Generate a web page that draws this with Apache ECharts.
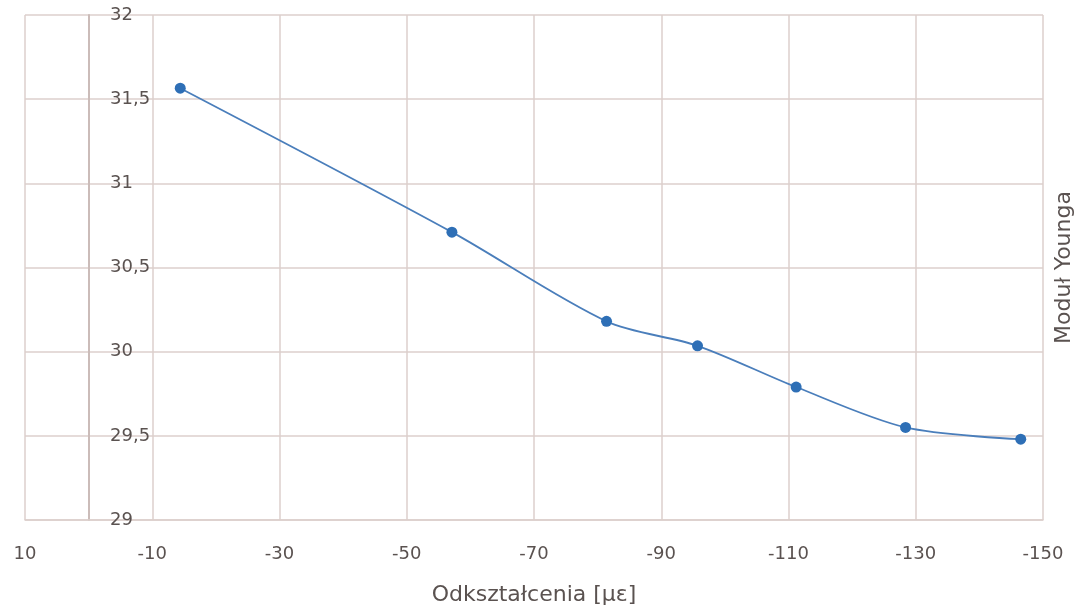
<!DOCTYPE html>
<html><head><meta charset="utf-8">
<script src="https://cdn.jsdelivr.net/npm/echarts@6/dist/echarts.min.js"></script>
<style>html,body{margin:0;padding:0;background:#fff}#c{width:1078px;height:609px}</style>
</head><body><div id="c"></div>
<script>
const strainValues = [-14.4, -57.1, -81.4, -95.7, -111.2, -128.4, -146.5];
const youngValues = [31.565, 30.71, 30.18, 30.035, 29.79, 29.55, 29.48];
const xAxisTitle = 'Odkształcenia [µε]';
const yAxisTitle = 'Moduł Younga';

const chart = echarts.init(document.getElementById('c'));
const txt = '#5a5250';
const gridCol = '#dccfcc';
const font = 'DejaVu Sans';
chart.setOption({
  animation: false,
  grid: {left: 25, right: 35, top: 15, bottom: 89, outerBoundsMode: 'none', containLabel: false},
  xAxis: {
    type: 'value', min: -150, max: 10, interval: 20, inverse: true,
    name: xAxisTitle, nameLocation: 'middle', nameGap: 64,
    nameTextStyle: {color: txt, fontSize: 22, fontFamily: font},
    axisLine: {onZero: false, lineStyle: {color: gridCol, width: 1.5}},
    axisTick: {show: false},
    axisLabel: {color: txt, fontSize: 18, fontFamily: font, margin: 25},
    splitLine: {show: true, lineStyle: {color: gridCol, width: 1.5}}
  },
  yAxis: [{
    type: 'value', min: 29, max: 32, interval: 0.5,
    axisLine: {show: true, onZero: true, lineStyle: {color: '#cbbcb9', width: 2}},
    axisTick: {show: false},
    axisLabel: {inside: true, margin: 85, color: txt, fontSize: 18, fontFamily: font,
      formatter: v => String(v).replace('.', ',')},
    splitLine: {show: true, lineStyle: {color: gridCol, width: 1.5}}
  }, {
    type: 'value', min: 29, max: 32, position: 'right',
    name: yAxisTitle, nameLocation: 'middle', nameRotate: 90, nameGap: 10,
    nameTextStyle: {color: txt, fontSize: 22, fontFamily: font},
    axisLine: {show: false}, axisTick: {show: false}, axisLabel: {show: false}, splitLine: {show: false}
  }],
  series: [{
    type: 'line', smooth: 0.3,
    data: strainValues.map((x, i) => [x, youngValues[i]]),
    symbol: 'circle', symbolSize: 11,
    lineStyle: {color: '#4a7ebb', width: 1.8},
    itemStyle: {color: '#2e6fb6'}
  }]
});
</script></body></html>
